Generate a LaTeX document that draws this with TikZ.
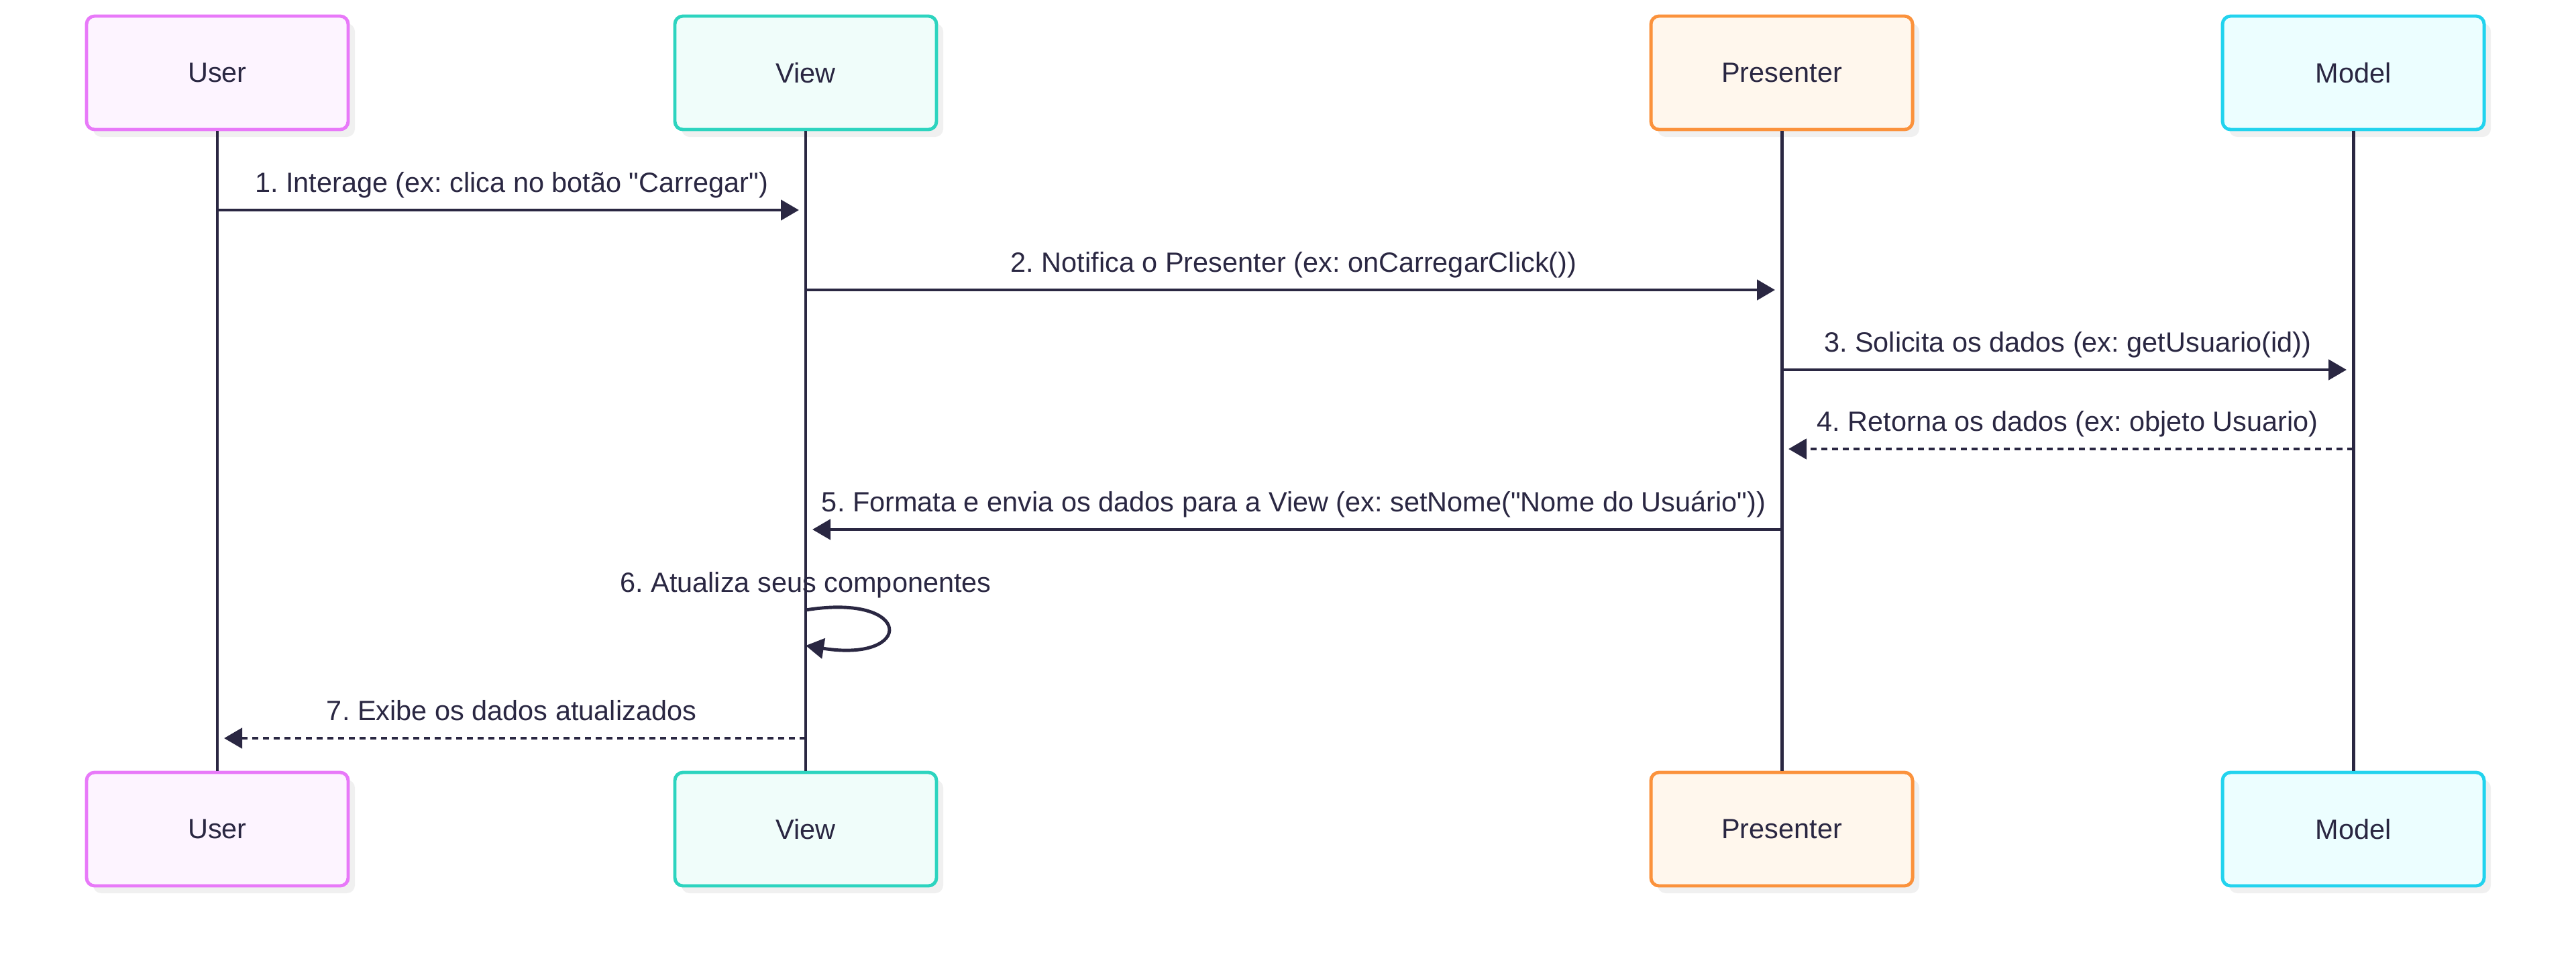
\documentclass[tikz,border=0pt]{standalone}
\usepackage{fontspec}
\setmainfont{Liberation Sans}[Ligatures=TeXOff]
\usetikzlibrary{arrows.meta, shadows, calc}
\frenchspacing

\definecolor{ink}{HTML}{2A2742}
\definecolor{userline}{HTML}{E879F9}
\definecolor{userfill}{HTML}{FDF4FF}
\definecolor{viewline}{HTML}{2DD4BF}
\definecolor{viewfill}{HTML}{F0FDFA}
\definecolor{presline}{HTML}{FB923C}
\definecolor{presfill}{HTML}{FFF7ED}
\definecolor{modelline}{HTML}{22D3EE}
\definecolor{modelfill}{HTML}{ECFEFF}

\begin{document}
\begin{tikzpicture}[node distance=2cm, every node/.style={font=\fontsize{11.8}{14}\selectfont, text=ink}]
% Styles
\tikzstyle{actor} = [rectangle, rounded corners=0.12cm, minimum width=3.9cm, minimum height=1.69cm, line width=1.4pt, text centered, drop shadow={shadow xshift=0.1cm, shadow yshift=-0.11cm, fill=black!6, opacity=1}]
\tikzstyle{lifeline} = [line width=1.4pt, draw=ink]
\tikzstyle{arrow} = [line width=1.4pt, draw=ink, ->, >={Triangle[length=0.27cm, width=0.3cm]}, shorten >=0.1cm]
\tikzstyle{reply} = [arrow, dash pattern=on 0.09cm off 0.07cm]
\tikzstyle{msg} = [anchor=base, yshift=0.27cm, inner sep=0pt]

\fill[white] (0,0) rectangle (38.4,-14.31);
\useasboundingbox (0,0) rectangle (38.4,-14.31);

\node (user_top) [actor, draw=userline, fill=userfill] at (3.24,-1.085) {User};
\node (view_top) [actor, draw=viewline, fill=viewfill, right of=user_top, xshift=6.77cm] {View};
\node (pres_top) [actor, draw=presline, fill=presfill, right of=view_top, xshift=12.55cm] {Presenter};
\node (model_top) [actor, draw=modelline, fill=modelfill, right of=pres_top, xshift=6.52cm] {Model};

\node (user_bot) [actor, draw=userline, fill=userfill, below of=user_top, yshift=-9.27cm] {User};
\node (view_bot) [actor, draw=viewline, fill=viewfill, below of=view_top, yshift=-9.27cm] {View};
\node (pres_bot) [actor, draw=presline, fill=presfill, below of=pres_top, yshift=-9.27cm] {Presenter};
\node (model_bot) [actor, draw=modelline, fill=modelfill, below of=model_top, yshift=-9.27cm] {Model};

\draw [lifeline] (user_top) -- (user_bot);
\draw [lifeline] (view_top) -- (view_bot);
\draw [lifeline] (pres_top) -- (pres_bot);
\draw [lifeline] (model_top) -- (model_bot);

% message rows
\coordinate (r1) at (0,-3.13);
\coordinate (r2) at (0,-4.32);
\coordinate (r3) at (0,-5.51);
\coordinate (r4) at (0,-6.69);
\coordinate (r5) at (0,-7.89);
\coordinate (r6) at (0,-9.09);
\coordinate (r7) at (0,-11.00);

\draw [arrow] (user_top |- r1) -- node[msg] {1. Interage (ex: clica no botão "Carregar")} (view_top |- r1);
\draw [arrow] (view_top |- r2) -- node[msg] {2. Notifica o Presenter (ex: onCarregarClick())} (pres_top |- r2);
\draw [arrow] (pres_top |- r3) -- node[msg] {3. Solicita os dados (ex: getUsuario(id))} (model_top |- r3);
\draw [reply] (model_top |- r4) -- node[msg] {4. Retorna os dados (ex: objeto Usuario)} (pres_top |- r4);
\draw [arrow] (pres_top |- r5) -- node[msg] {5. Formata e envia os dados para a View (ex: setNome("Nome do Usuário"))} (view_top |- r5);

\coordinate (loop_start) at (view_top |- r6);
\coordinate (loop_end) at ($(loop_start)+(0,-0.53)$);
\node (loop_label) [msg] at (loop_start) {6. Atualiza seus componentes};
\draw [arrow, shorten >=0pt] (loop_start) .. controls ($(loop_start)+(1.62,0.26)$) and ($(loop_end)+(1.62,-0.26)$) .. (loop_end);

\draw [reply] (view_top |- r7) -- node[msg] {7. Exibe os dados atualizados} (user_top |- r7);

\end{tikzpicture}
\end{document}
